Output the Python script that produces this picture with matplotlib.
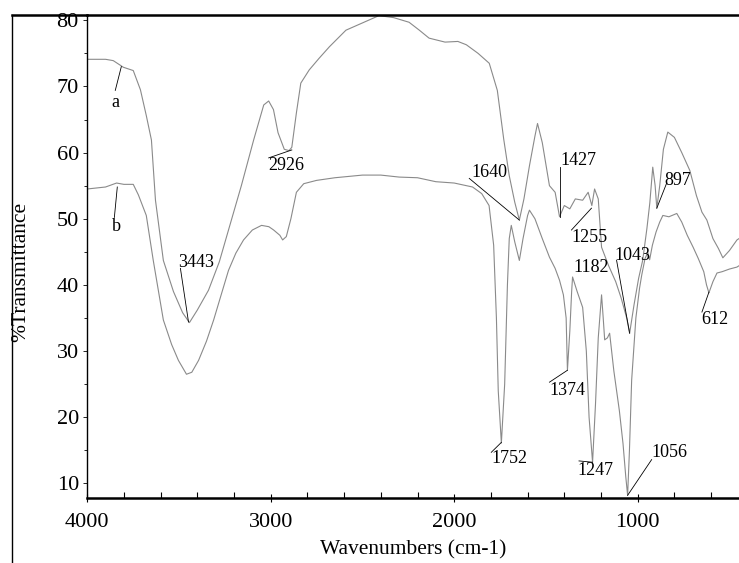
import numpy as np
import matplotlib
matplotlib.use("Agg")
import matplotlib.pyplot as plt
from matplotlib.lines import Line2D
from matplotlib.ticker import MultipleLocator

plt.rcParams['font.family'] = ['Liberation Serif', 'DejaVu Serif']

# spectrum a (upper trace)
wn_a = [4000, 3900, 3858, 3803, 3749, 3710, 3678, 3650, 3628, 3585, 3530, 3480, 3443, 3400,
        3339, 3280, 3230, 3160, 3093, 3038, 3011, 2985, 2960, 2926, 2900, 2885, 2860, 2836,
        2790, 2738, 2680, 2590, 2500, 2410, 2330, 2246, 2190, 2137, 2050, 1980, 1934, 1870,
        1809, 1765, 1730, 1700, 1670, 1645, 1620, 1590, 1560, 1546, 1520, 1481, 1450, 1426,
        1400, 1370, 1340, 1300, 1270, 1250, 1235, 1215, 1197, 1160, 1120, 1090, 1060, 1044,
        1020, 995, 973, 950, 934, 918, 905, 896, 880, 860, 836, 800, 760, 716, 680, 650, 623,
        590, 560, 536, 500, 459, 448]
tr_a = [74.1, 74.1, 73.9, 72.9, 72.4, 69.5, 65.6, 61.9, 52.8, 43.7, 39.0, 35.8, 34.3, 36.2,
        39.2, 43.5, 48.3, 55.0, 61.9, 67.2, 67.8, 66.5, 63.0, 60.5, 60.3, 60.8, 66.0, 70.5,
        72.5, 74.2, 76.0, 78.5, 79.6, 80.7, 80.4, 79.7, 78.5, 77.3, 76.7, 76.8, 76.3, 75.0,
        73.5, 69.4, 62.0, 56.5, 52.5, 49.8, 53.0, 58.0, 62.5, 64.4, 61.5, 55.0, 54.0, 50.3,
        52.0, 51.5, 53.0, 52.8, 54.0, 52.0, 54.5, 53.0, 45.7, 43.0, 40.5, 38.0, 35.0, 32.7,
        37.0, 41.0, 43.7, 48.5, 52.4, 57.8, 55.0, 51.6, 55.0, 60.5, 63.1, 62.3, 60.0, 57.3,
        53.5, 51.0, 49.8, 47.0, 45.5, 44.1, 45.2, 46.8, 47.0]

# spectrum b (lower trace)
wn_b = [4000, 3900, 3840, 3800, 3749, 3721, 3678, 3640, 3585, 3540, 3503, 3459, 3430, 3393,
        3350, 3311, 3270, 3230, 3190, 3148, 3100, 3050, 3010, 2984, 2950, 2935, 2915, 2890,
        2860, 2820, 2750, 2650, 2500, 2400, 2300, 2200, 2100, 2000, 1900, 1850, 1810, 1785,
        1770, 1760, 1743, 1725, 1710, 1700, 1689, 1670, 1645, 1625, 1600, 1590, 1560, 1520,
        1481, 1450, 1426, 1405, 1390, 1383, 1370, 1360, 1355, 1330, 1300, 1280, 1265, 1246,
        1230, 1215, 1197, 1188, 1180, 1165, 1153, 1130, 1100, 1080, 1065, 1055, 1045, 1033,
        1010, 990, 978, 960, 945, 935, 920, 900, 880, 863, 830, 787, 760, 730, 698, 670, 640,
        625, 612, 590, 568, 540, 500, 459, 448]
tr_b = [54.5, 54.8, 55.4, 55.2, 55.2, 53.6, 50.5, 43.7, 34.7, 31.0, 28.6, 26.5, 26.8, 28.6,
        31.5, 34.7, 38.5, 42.2, 44.8, 46.8, 48.3, 49.0, 48.8, 48.3, 47.5, 46.8, 47.3, 50.0,
        54.0, 55.3, 55.8, 56.2, 56.6, 56.6, 56.3, 56.2, 55.6, 55.4, 54.8, 53.8, 52.0, 46.0,
        35.0, 24.0, 16.1, 25.0, 40.0, 47.0, 49.0, 46.5, 43.7, 47.0, 50.5, 51.3, 50.0, 47.0,
        44.2, 42.5, 40.7, 38.5, 35.0, 27.1, 33.0, 39.0, 41.2, 39.0, 36.6, 30.0, 20.0, 13.2,
        22.0, 32.0, 38.5, 35.0, 31.7, 32.0, 32.7, 27.0, 21.0, 16.0, 11.0, 8.2, 15.0, 25.6,
        35.0, 39.5, 41.5, 44.0, 44.9, 43.8, 46.0, 48.0, 49.5, 50.5, 50.3, 50.8, 49.5, 47.5,
        45.7, 44.0, 42.0, 40.0, 38.8, 40.5, 41.8, 42.0, 42.4, 42.7, 42.9]

# peak labels: text, text position (wn, %T), leader line start and end
labels = ["a", "b", "3443", "2926", "1640", "1427", "1255", "1182", "1043", "897",
          "612", "1374", "1752", "1247", "1056"]
text_pos = [(3847, 67.6), (3842, 48.9), (3409, 43.4), (2918, 58.0), (1809, 57.0),
            (1322, 58.8), (1262, 47.2), (1251, 42.7), (1027, 44.5), (781, 55.8),
            (579, 34.7), (1383, 24.1), (1699, 13.8), (1230, 12.0), (825, 14.6)]
leaders = [((3847, 69.4), (3814, 73.0)), ((3852, 50.2), (3836, 54.8)),
           ((3492, 42.5), (3448, 34.4)), ((3011, 59.2), (2885, 60.4)),
           ((1918, 56.1), (1645, 49.8)), ((1426, 57.8), (1426, 50.3)),
           ((1361, 48.3), (1252, 51.6)), None,
           ((1115, 43.7), (1044, 32.7)), ((842, 55.4), (896, 51.6)),
           ((650, 35.9), (612, 38.9)), ((1481, 25.3), (1383, 27.1)),
           ((1798, 14.7), (1743, 16.2)), ((1320, 13.4), (1246, 13.2)),
           ((924, 13.6), (1055, 8.2))]

fig = plt.figure(figsize=(7.39, 5.63), dpi=100)
ax = fig.add_axes([0.118, 0.1155, 0.882, 0.8579])

ax.plot(wn_a, tr_a, color='#8a8a8a', lw=0.8)
ax.plot(wn_b, tr_b, color='#8a8a8a', lw=0.8)

for lab, (tx, ty), ld in zip(labels, text_pos, leaders):
    ax.text(tx, ty, lab, fontsize=13, ha='center', va='center')
    if ld is not None:
        ax.plot([ld[0][0], ld[1][0]], [ld[0][1], ld[1][1]], color='black', lw=0.6)

ax.set_xlim(4000, 448)
ax.set_ylim(7.8, 80.8)

ax.xaxis.set_major_locator(MultipleLocator(1000))
ax.xaxis.set_minor_locator(MultipleLocator(200))
ax.yaxis.set_major_locator(MultipleLocator(10))
ax.yaxis.set_minor_locator(MultipleLocator(5))
ax.tick_params(axis='x', which='major', direction='inout', length=6, width=0.8,
               labelsize=16, pad=8)
ax.tick_params(axis='x', which='minor', direction='in', length=4, width=0.8)
ax.tick_params(axis='y', which='major', direction='out', length=3, width=0.6,
               labelsize=16, pad=3)
ax.tick_params(axis='y', which='minor', direction='out', length=2, width=0.6)

ax.spines['right'].set_visible(False)
ax.spines['top'].set_linewidth(1.8)
ax.spines['bottom'].set_linewidth(1.8)
ax.spines['left'].set_linewidth(1.0)

ax.set_xlabel('Wavenumbers (cm-1)', fontsize=15.5, labelpad=6)

# outer frame line on the left, with the y label drawn over it
fig.add_artist(Line2D([0.0162, 0.0162], [0.973, 0.0], color='black', lw=1.0))
fig.add_artist(Line2D([0.0162, 0.118], [0.973, 0.973], color='black', lw=1.8))
fig.text(0.028, 0.517, '%Transmittance', rotation=90, fontsize=15.5,
         ha='center', va='center')

fig.savefig('out.png', dpi=100)
